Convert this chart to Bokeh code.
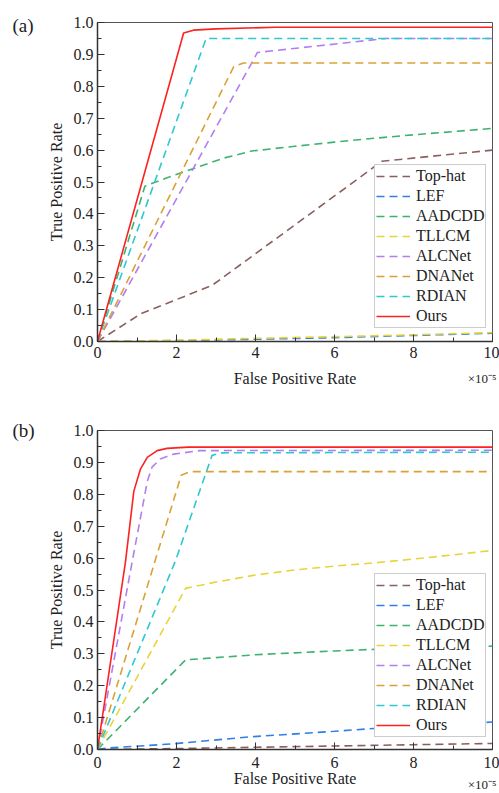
from bokeh.plotting import figure
from bokeh.models import Range1d, SingleIntervalTicker, PrintfTickFormatter, Legend, LegendItem, Title
from bokeh.layouts import column
from bokeh.embed import file_html
from bokeh.resources import INLINE

methods = ["Top-hat", "LEF", "AADCDD", "TLLCM", "ALCNet", "DNANet", "RDIAN", "Ours"]
colors = ["#8c5f5f", "#2f7fe8", "#3cb371", "#e8d43a", "#b27ef0", "#dba135", "#30c8d0", "#ff2020"]

# Panel (a) — FPR in units of 1e-5
a_tophat_x = [0, 1.1, 2.9, 3.5, 5.6, 7.2, 10]
a_tophat_y = [0, 0.087, 0.176, 0.23, 0.42, 0.565, 0.60]
a_lef_x = [0, 2, 4, 6, 8, 10]
a_lef_y = [0, 0.003, 0.007, 0.012, 0.019, 0.026]
a_aadcdd_x = [0, 1.2, 1.8, 2.5, 3.2, 3.9, 5, 6, 7, 8, 9, 10]
a_aadcdd_y = [0, 0.487, 0.515, 0.545, 0.575, 0.597, 0.612, 0.625, 0.637, 0.648, 0.658, 0.668]
a_tllcm_x = [0, 2, 4, 6, 8, 10]
a_tllcm_y = [0, 0.004, 0.010, 0.015, 0.021, 0.028]
a_alcnet_x = [0, 4.05, 7.3, 10]
a_alcnet_y = [0, 0.906, 0.95, 0.95]
a_dnanet_x = [0, 3.45, 3.7, 10]
a_dnanet_y = [0, 0.862, 0.873, 0.873]
a_rdian_x = [0, 2.75, 10]
a_rdian_y = [0, 0.95, 0.95]
a_ours_x = [0, 2.18, 2.43, 3.0, 4.5, 10]
a_ours_y = [0, 0.967, 0.976, 0.98, 0.985, 0.985]

# Panel (b)
b_tophat_x = [0, 2, 4, 6, 8, 10]
b_tophat_y = [0, 0.003, 0.007, 0.011, 0.015, 0.019]
b_lef_x = [0, 0.2, 1.93, 3.9, 6, 8, 10]
b_lef_y = [0, 0.004, 0.018, 0.040, 0.057, 0.075, 0.086]
b_aadcdd_x = [0, 2.23, 3, 4, 5, 6, 7, 8, 9, 10]
b_aadcdd_y = [0, 0.281, 0.288, 0.297, 0.303, 0.309, 0.314, 0.318, 0.321, 0.324]
b_tllcm_x = [0, 2.23, 3, 4, 5, 6, 7, 8, 9, 10]
b_tllcm_y = [0, 0.505, 0.525, 0.547, 0.563, 0.575, 0.585, 0.597, 0.610, 0.624]
b_alcnet_x = [0, 0.88, 1.26, 1.38, 1.59, 1.93, 2.6, 10]
b_alcnet_y = [0, 0.59, 0.84, 0.885, 0.911, 0.926, 0.937, 0.938]
b_dnanet_x = [0, 2.12, 2.35, 10]
b_dnanet_y = [0, 0.86, 0.871, 0.871]
b_rdian_x = [0, 0.1, 1.97, 2.9, 3.15, 10]
b_rdian_y = [0, 0.03, 0.59, 0.922, 0.93, 0.932]
b_ours_x = [0, 0.71, 0.92, 1.09, 1.26, 1.51, 1.76, 2.3, 10]
b_ours_y = [0, 0.59, 0.81, 0.88, 0.916, 0.937, 0.944, 0.948, 0.948]

series_a = [(a_tophat_x, a_tophat_y), (a_lef_x, a_lef_y), (a_aadcdd_x, a_aadcdd_y), (a_tllcm_x, a_tllcm_y),
            (a_alcnet_x, a_alcnet_y), (a_dnanet_x, a_dnanet_y), (a_rdian_x, a_rdian_y), (a_ours_x, a_ours_y)]
series_b = [(b_tophat_x, b_tophat_y), (b_lef_x, b_lef_y), (b_aadcdd_x, b_aadcdd_y), (b_tllcm_x, b_tllcm_y),
            (b_alcnet_x, b_alcnet_y), (b_dnanet_x, b_dnanet_y), (b_rdian_x, b_rdian_y), (b_ours_x, b_ours_y)]

FONT = "Liberation Serif"


def make_panel(tag, series, height, top, bottom, tick_standoff, xlab_standoff, legend_y, tag_standoff, exp_standoff):
    p = figure(width=499, height=height, x_range=Range1d(0, 10), y_range=Range1d(0, 1),
               output_backend="svg", toolbar_location=None,
               min_border_left=97, min_border_right=7, min_border_top=top, min_border_bottom=bottom)
    p.xgrid.visible = False
    p.ygrid.visible = False
    p.outline_line_color = "#555555"
    p.outline_line_width = 1
    p.background_fill_color = "white"

    p.xaxis.ticker = SingleIntervalTicker(interval=2, num_minor_ticks=2)
    p.yaxis.ticker = SingleIntervalTicker(interval=0.1, num_minor_ticks=2)
    p.yaxis.formatter = PrintfTickFormatter(format="%.1f")
    for ax in (p.xaxis[0], p.yaxis[0]):
        ax.axis_line_color = "#333333"
        ax.axis_line_width = 1.5
        ax.major_tick_in = 7
        ax.major_tick_out = 0
        ax.minor_tick_in = 4
        ax.minor_tick_out = 0
        ax.major_tick_line_color = "#333333"
        ax.minor_tick_line_color = "#333333"
        ax.major_label_text_font = FONT
        ax.major_label_text_font_size = "16px"
        ax.major_label_text_color = "#222222"
        ax.axis_label_text_font = FONT
        ax.axis_label_text_font_size = "16px"
        ax.axis_label_text_font_style = "normal"
        ax.axis_label_text_color = "#222222"
    p.xaxis.axis_label = "False Positive Rate"
    p.yaxis.axis_label = "True Positive Rate"
    p.xaxis.major_label_standoff = tick_standoff
    p.yaxis.major_label_standoff = 4
    p.xaxis.axis_label_standoff = xlab_standoff
    p.yaxis.axis_label_standoff = 6

    items = []
    for name, color, (xs, ys) in zip(methods, colors, series):
        dash = "solid" if name == "Ours" else "8 5"
        r = p.line(xs, ys, line_color=color, line_width=1.6, line_dash=dash)
        items.append(LegendItem(label=name, renderers=[r]))

    legend = Legend(items=items, location=(277, legend_y), margin=0, padding=1, spacing=0,
                    glyph_width=34, glyph_height=20, label_height=20, label_standoff=6,
                    label_text_font=FONT, label_text_font_size="16px", label_text_color="#222222",
                    border_line_color="#9a9a9a", border_line_width=1,
                    background_fill_color="white", background_fill_alpha=1.0)
    p.add_layout(legend)

    # panel tag, e.g. "(a)", to the left of the top of the y axis
    p.add_layout(Title(text=tag, align="left", offset=-85, standoff=tag_standoff, text_font=FONT,
                       text_font_size="19px", text_font_style="normal", text_color="#222222",
                       vertical_align="bottom"), "above")
    # axis multiplier under the right end of the x axis
    p.add_layout(Title(text="\u00d710\u207b\u2075", align="right", offset=-4, standoff=exp_standoff,
                       text_font=FONT, text_font_size="13px", text_font_style="normal",
                       text_color="#222222", vertical_align="top"), "below")
    return p


p1 = make_panel("(a)", series_a, height=390, top=22, bottom=49, tick_standoff=5, xlab_standoff=9,
                legend_y=13, tag_standoff=-26, exp_standoff=-37)
p2 = make_panel("(b)", series_b, height=403, top=40, bottom=44, tick_standoff=7, xlab_standoff=-1,
                legend_y=12, tag_standoff=-20, exp_standoff=-25)

layout = column(p1, p2, spacing=0)
open("out.html", "w").write(file_html(layout, INLINE))
